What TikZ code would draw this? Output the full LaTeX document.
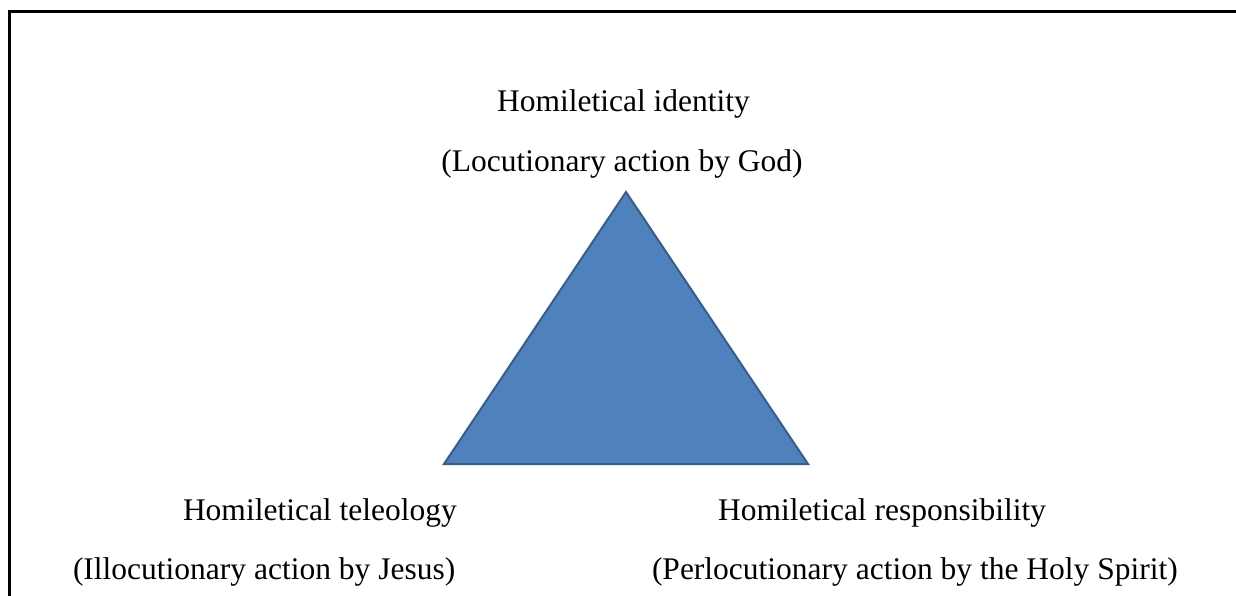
\documentclass[tikz,border=0pt]{standalone}
\usepackage{fontspec}
\setmainfont{Liberation Serif}
\definecolor{trifill}{HTML}{4F81BD}
\definecolor{triline}{HTML}{385D8A}
\tikzset{
  lbl/.style={inner sep=0pt, outer sep=0pt, font=\fontsize{31.5}{38}\selectfont, text=black},
  frameline/.style={line width=3pt, black, line cap=rect},
  tri/.style={fill=trifill, draw=triline, line width=2pt, line join=miter}
}
\begin{document}
\begin{tikzpicture}[x=1pt,y=-1pt]
\useasboundingbox (0,0) rectangle (1236,595);
% frame (top and left sides)
\coordinate (fbl) at (9.5,600);
\coordinate (ftl) at (9.5,11);
\coordinate (ftr) at (1240,11);
\draw[frameline] (fbl) -- (ftl) -- (ftr);
% triangle
\coordinate (apex) at (626,192);
\coordinate (bl) at (444,464);
\coordinate (br) at (808,464);
\draw[tri] (apex) -- (br) -- (bl) -- cycle;
% labels
\node[lbl, anchor=base] (topA) at (623.5,111) {Homiletical identity};
\node[lbl, anchor=base] (topB) at (622,171) {(Locutionary action by God)};
\node[lbl, anchor=base west] (leftA) at (183,520) {Homiletical teleology};
\node[lbl, anchor=base west] (leftB) at (73,579) {(Illocutionary action by Jesus)};
\node[lbl, anchor=base west] (rightA) at (718,520) {Homiletical responsibility};
\node[lbl, anchor=base west] (rightB) at (652,579) {(Perlocutionary action by the Holy Spirit)};
\end{tikzpicture}
\end{document}
